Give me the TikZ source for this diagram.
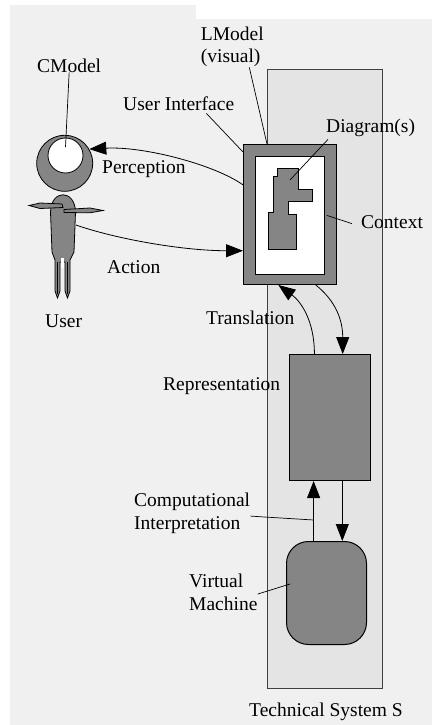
\documentclass[tikz,border=0pt]{standalone}
\usepackage{fontspec}
\setmainfont{Liberation Serif}
\newfontfamily\labelfont{Liberation Serif}
\usetikzlibrary{arrows.meta,calc}
\definecolor{bg}{HTML}{F0F0F0}
\definecolor{sysfill}{HTML}{E4E4E4}
\definecolor{dk}{HTML}{858585}
\begin{document}
\begin{tikzpicture}[x=1pt,y=-1pt,
  lbl/.style={anchor=base west, inner sep=0pt, font=\labelfont\fontsize{19.5}{22.5}\selectfont, align=left},
  lead/.style={draw=black, line width=0.7pt},
  flow/.style={draw=black, line width=0.8pt, -{Triangle[length=17pt,width=13pt]}},
  box/.style={draw=black, line width=1pt, fill=dk, inner sep=0pt, anchor=north west},
  limb/.style={draw=black, fill=dk, line width=0.8pt},
]
\useasboundingbox (0,0) rectangle (432,725);

% page background
\fill[white] (0,0) rectangle (432,725);
\fill[bg] (10,5) rectangle (196,725);
\fill[bg] (196,19) rectangle (432,725);

% technical system
\node[draw=black!75, fill=sysfill, line width=0.8pt, inner sep=0pt, anchor=north west,
      minimum width=115pt, minimum height=619pt] (sys) at (267,69) {};

% user interface with its context and diagram
\node[box, minimum width=93pt, minimum height=140pt] (ui) at (243,144) {};
\node[draw=black, fill=white, line width=0.8pt, inner sep=0pt, anchor=north west,
      minimum width=69pt, minimum height=118pt] (ctx) at (255,156) {};
\draw[limb] (277.3,168.3) -- (298.7,168.3) -- (298.7,189.3) -- (312.7,189.3)
  -- (312.7,201.7) -- (288,201.7) -- (288,214.3) -- (296.7,214.3) -- (296.7,249.3)
  -- (268,249.3) -- (268,212.7) -- (273.3,212.7) -- (273.3,176.7) -- (277.3,176.7) -- cycle;
\coordinate (dgm) at (290,180);

% representation and virtual machine
\node[box, minimum width=81pt, minimum height=126pt] (rep) at (289,354) {};
\node[box, rounded corners=22pt, minimum width=80pt, minimum height=103pt] (vm) at (286,541) {};

% the user
\draw[limb] (52,252) -- (50.5,212) .. controls (51,189) and (75,189) .. (75.5,212)
  -- (74,252) -- (70,260) -- (70,291) -- (67.5,298) -- (65,291) -- (65,262)
  -- (60,262) -- (60,291) -- (57.5,298) -- (55,291) -- (55,260) -- cycle;
\fill[white] (60.6,258) rectangle (64.4,268);
\draw[line width=0.6pt] (57.5,262) -- (57.5,294) (67.5,262) -- (67.5,294);
\draw[limb] (29,205.5) -- (40,203) -- (62,204) -- (63,207.5) -- (40,208.5) -- cycle;
\draw[limb] (64,209.5) -- (90,208) -- (103,210.5) -- (90,212.8) -- (64,212.5) -- cycle;
\node[circle, draw=black, fill=dk, minimum size=56pt, inner sep=0pt, line width=0.8pt] (head) at (64.7,163.3) {};
\node[circle, draw=black, fill=white, minimum size=35pt, inner sep=0pt, line width=0.8pt] (mind) at (65.5,155.5) {};
\coordinate (userbody) at (76,225);

% labels (for two-line labels the base is that of the last line)
\node[lbl] (cmodel) at (37,72) {CModel};
\node[lbl] (lmodel) at (200.7,63) {LModel\\(visual)};
\node[lbl] (uilbl) at (123,110) {User Interface};
\node[lbl] (perc) at (102,173) {Perception};
\node[lbl] (act) at (107,273) {Action};
\node[lbl] (user) at (45,327) {User};
\node[lbl] (dlbl) at (326,132) {Diagram(s)};
\node[lbl] (ctxlbl) at (361,228) {Context};
\node[lbl] (trans) at (206,324) {Translation};
\node[lbl] (replbl) at (163,390) {Representation};
\node[lbl] (cilbl) at (134,529) {Computational\\Interpretation};
\node[lbl] (vmlbl) at (189,610) {Virtual\\Machine};
\node[lbl] (syslbl) at (249,716) {Technical System S};

% flows between user, interface, representation and machine
\draw[flow] ($(ui.north west)!0.29!(ui.south west)$) .. controls +(-28,-20) and +(55,-3) .. (head.30);
\draw[flow] (userbody) .. controls +(40,14) and +(-60,0) .. ($(ui.north west)!0.757!(ui.south west)$);
\draw[flow] ($(rep.north west)!0.31!(rep.north east)$) .. controls +(0,-34) and +(22,16) .. ($(ui.south west)!0.376!(ui.south east)$);
\draw[flow] ($(ui.south west)!0.774!(ui.south east)$) .. controls +(20,16) and +(0,-34) .. ($(rep.north west)!0.655!(rep.north east)$);
\coordinate (cA) at ($(rep.south west)!0.3!(rep.south east)$);
\coordinate (cB) at ($(rep.south west)!0.65!(rep.south east)$);
\draw[flow] (cA |- vm.north) -- (cA);
\draw[flow] (cB) -- (cB |- vm.north);

% leader lines from the labels
\draw[lead] (cmodel.south) -- ([yshift=8.5pt]mind.center);
\draw[lead] ([xshift=17pt]lmodel.south) -- (sys.west |- ui.north);
\draw[lead] ([xshift=-28pt,yshift=-3pt]uilbl.south east) -- ([yshift=-8pt]ui.north west);
\draw[lead] ([xshift=2pt,yshift=-3pt]dlbl.south west) -- (dgm);
\draw[lead] ([xshift=-9pt,yshift=-2pt]ctxlbl.west) -- ([xshift=2pt]ctx.east);
\draw[lead] ([yshift=-3pt]cilbl.east) -- ++(15,1) -- ($(cA)!0.65!(cA |- vm.north)$);
\draw[lead] ([yshift=-2pt]vmlbl.east) -- ([xshift=4pt,yshift=9pt]vm.west);
\end{tikzpicture}
\end{document}
